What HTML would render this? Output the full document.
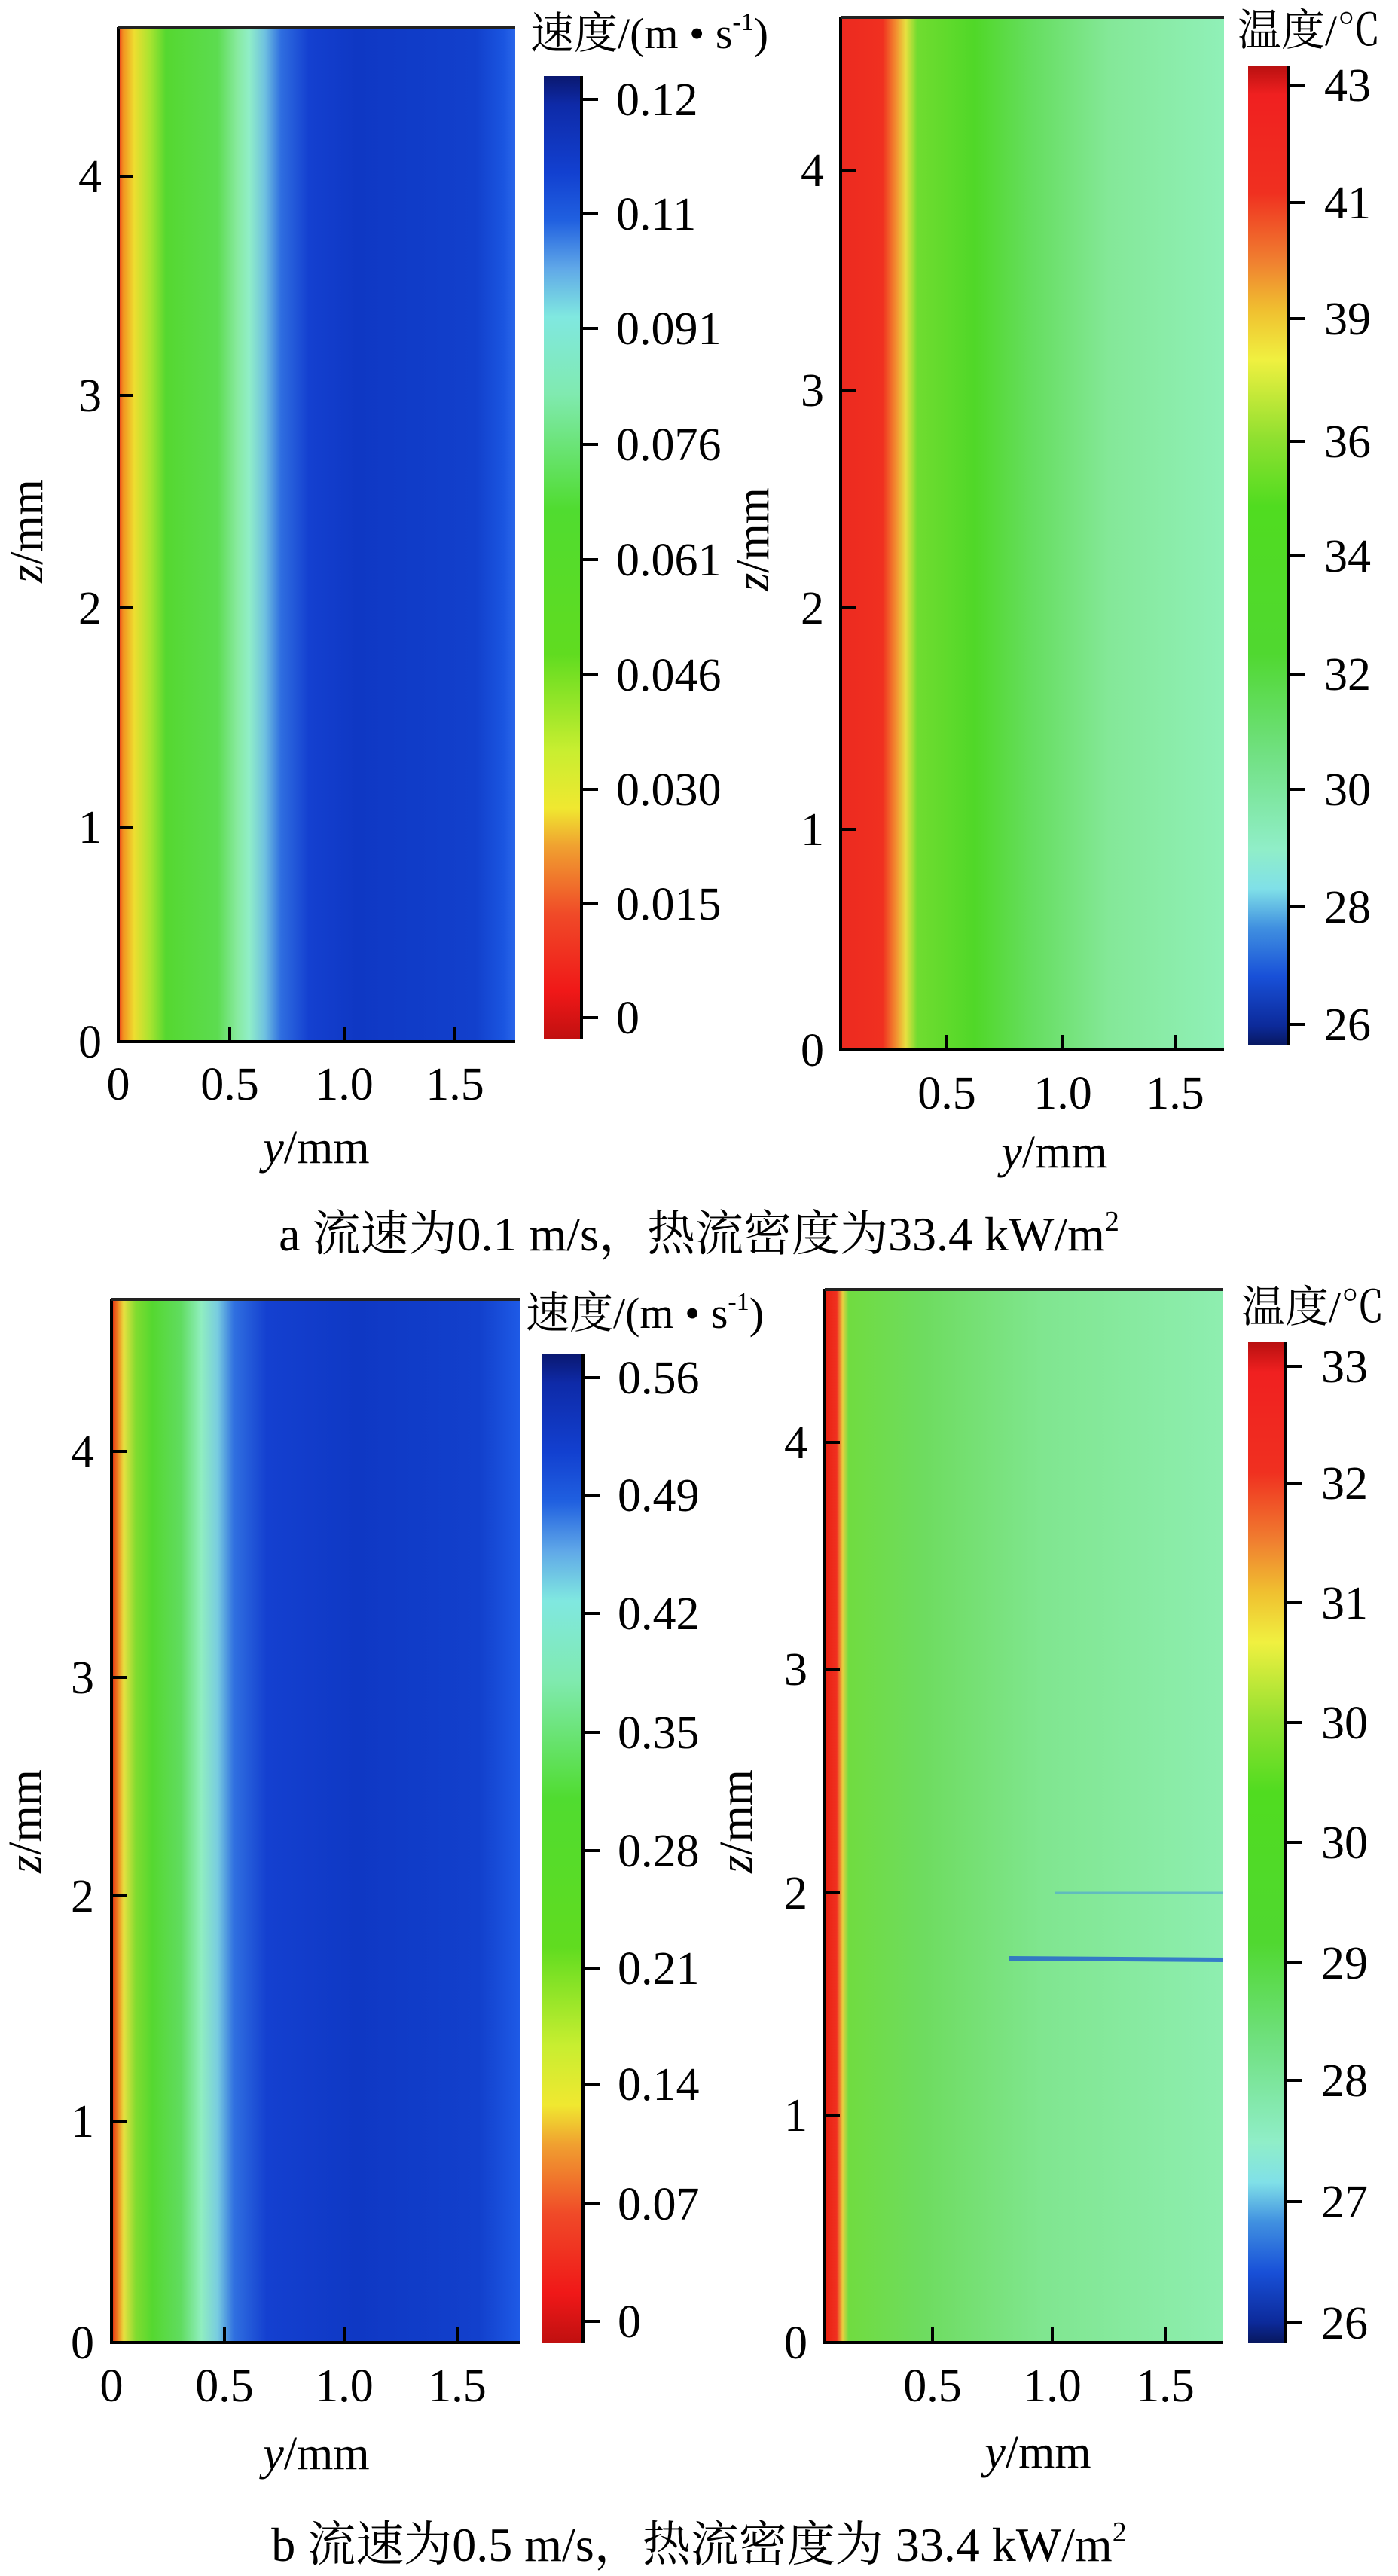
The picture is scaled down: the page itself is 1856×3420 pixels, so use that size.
<!DOCTYPE html>
<html><head><meta charset="utf-8"><style>
html,body{margin:0;padding:0;background:#fff;}
svg{display:block;}
text{font-family:"Liberation Serif","Noto Serif CJK SC",serif;fill:#000;}
</style></head><body>
<svg width="1856" height="3420" viewBox="0 0 1856 3420" xmlns="http://www.w3.org/2000/svg">
<defs>
<linearGradient id="vel" x1="0" x2="1" y1="0" y2="0">
<stop offset="0" stop-color="#e8321a"/><stop offset="0.012" stop-color="#f29020"/>
<stop offset="0.04" stop-color="#eede30"/><stop offset="0.08" stop-color="#a8e430"/>
<stop offset="0.12" stop-color="#55d830"/><stop offset="0.25" stop-color="#5cdc50"/>
<stop offset="0.3" stop-color="#88eaa0"/><stop offset="0.33" stop-color="#90eec8"/>
<stop offset="0.37" stop-color="#6ec0e0"/><stop offset="0.41" stop-color="#2f6ee0"/>
<stop offset="0.48" stop-color="#1440d0"/><stop offset="0.6" stop-color="#0f38c4"/>
<stop offset="0.9" stop-color="#1240cc"/><stop offset="0.97" stop-color="#1a55e0"/>
<stop offset="1" stop-color="#2a66ea"/>
</linearGradient>
<linearGradient id="velb" x1="0" x2="1" y1="0" y2="0">
<stop offset="0" stop-color="#e02010"/><stop offset="0.015" stop-color="#f08020"/>
<stop offset="0.03" stop-color="#e8e040"/><stop offset="0.06" stop-color="#80dc30"/>
<stop offset="0.1" stop-color="#55d830"/><stop offset="0.17" stop-color="#60dc60"/>
<stop offset="0.22" stop-color="#90eec0"/><stop offset="0.26" stop-color="#78cce0"/>
<stop offset="0.3" stop-color="#3070e0"/><stop offset="0.38" stop-color="#1440d0"/>
<stop offset="0.6" stop-color="#0f38c4"/><stop offset="0.9" stop-color="#1240cc"/>
<stop offset="1" stop-color="#1e5ae6"/>
</linearGradient>
<linearGradient id="tempa" x1="0" x2="1" y1="0" y2="0">
<stop offset="0" stop-color="#ec2a20"/><stop offset="0.11" stop-color="#f03020"/>
<stop offset="0.145" stop-color="#f29030"/><stop offset="0.17" stop-color="#e8e040"/>
<stop offset="0.2" stop-color="#70dc30"/><stop offset="0.35" stop-color="#50d828"/>
<stop offset="0.5" stop-color="#66de60"/><stop offset="0.7" stop-color="#84e898"/>
<stop offset="1" stop-color="#90f0b8"/>
</linearGradient>
<linearGradient id="tempb" x1="0" x2="1" y1="0" y2="0">
<stop offset="0" stop-color="#e82010"/><stop offset="0.03" stop-color="#f03020"/>
<stop offset="0.045" stop-color="#e8d040"/><stop offset="0.06" stop-color="#70dc40"/>
<stop offset="0.25" stop-color="#6edc60"/><stop offset="0.55" stop-color="#80e690"/>
<stop offset="1" stop-color="#8eeeb0"/>
</linearGradient>
<linearGradient id="cbv" x1="0" x2="0" y1="0" y2="1">
<stop offset="0" stop-color="#0a1870"/><stop offset="0.03" stop-color="#0e2aa8"/>
<stop offset="0.1" stop-color="#1240d0"/><stop offset="0.15" stop-color="#2060e0"/>
<stop offset="0.2" stop-color="#60a8e8"/><stop offset="0.25" stop-color="#80e8e0"/>
<stop offset="0.33" stop-color="#80eab0"/><stop offset="0.45" stop-color="#50dc30"/>
<stop offset="0.6" stop-color="#60dc20"/><stop offset="0.7" stop-color="#c8ee30"/>
<stop offset="0.76" stop-color="#f0e830"/><stop offset="0.8" stop-color="#f0a030"/>
<stop offset="0.87" stop-color="#f04a28"/><stop offset="0.95" stop-color="#f01818"/>
<stop offset="1" stop-color="#c01010"/>
</linearGradient>
<linearGradient id="cbt" x1="0" x2="0" y1="0" y2="1">
<stop offset="0" stop-color="#b81010"/><stop offset="0.03" stop-color="#f02020"/>
<stop offset="0.13" stop-color="#f03020"/><stop offset="0.2" stop-color="#f08030"/>
<stop offset="0.25" stop-color="#f0c030"/><stop offset="0.3" stop-color="#f0f040"/>
<stop offset="0.38" stop-color="#90e030"/><stop offset="0.45" stop-color="#50dc20"/>
<stop offset="0.6" stop-color="#50d830"/><stop offset="0.7" stop-color="#70e080"/>
<stop offset="0.8" stop-color="#90eec8"/><stop offset="0.84" stop-color="#80e0e8"/>
<stop offset="0.88" stop-color="#4090e0"/><stop offset="0.93" stop-color="#1850d8"/>
<stop offset="0.98" stop-color="#0c2a9a"/><stop offset="1" stop-color="#081860"/>
</linearGradient>
</defs>

<!-- ===== Panel a left ===== -->
<rect x="157" y="36" width="527" height="1347" fill="url(#vel)"/>
<path d="M157 36 V1383 H684" fill="none" stroke="#000" stroke-width="4"/>
<line x1="157" y1="37" x2="684" y2="37" stroke="#222" stroke-width="4"/>
<g stroke="#000" stroke-width="4">
<line x1="157" y1="234" x2="177" y2="234"/><line x1="157" y1="525" x2="177" y2="525"/>
<line x1="157" y1="807" x2="177" y2="807"/><line x1="157" y1="1098" x2="177" y2="1098"/>
<line x1="305" y1="1383" x2="305" y2="1363"/><line x1="457" y1="1383" x2="457" y2="1363"/><line x1="604" y1="1383" x2="604" y2="1363"/>
</g>
<g font-size="62" text-anchor="end">
<text x="135" y="255">4</text><text x="135" y="546">3</text><text x="135" y="828">2</text><text x="135" y="1119">1</text><text x="135" y="1404">0</text>
</g>
<g font-size="62" text-anchor="middle">
<text x="157" y="1460">0</text><text x="305" y="1460">0.5</text><text x="457" y="1460">1.0</text><text x="604" y="1460">1.5</text>
<text x="420" y="1544"><tspan font-style="italic">y</tspan>/mm</text>
</g>
<text font-size="62" text-anchor="middle" transform="translate(56,705) rotate(-90)"><tspan font-style="italic">z</tspan>/mm</text>
<rect x="722" y="101" width="50" height="1279" fill="url(#cbv)"/>
<line x1="772" y1="101" x2="772" y2="1380" stroke="#000" stroke-width="4"/>
<g stroke="#000" stroke-width="4">
<line x1="772" y1="132" x2="794" y2="132"/><line x1="772" y1="284" x2="794" y2="284"/><line x1="772" y1="436" x2="794" y2="436"/>
<line x1="772" y1="590" x2="794" y2="590"/><line x1="772" y1="743" x2="794" y2="743"/><line x1="772" y1="896" x2="794" y2="896"/>
<line x1="772" y1="1048" x2="794" y2="1048"/><line x1="772" y1="1200" x2="794" y2="1200"/><line x1="772" y1="1351" x2="794" y2="1351"/>
</g>
<g font-size="62">
<text x="818" y="153">0.12</text><text x="818" y="305">0.11</text><text x="818" y="457">0.091</text>
<text x="818" y="611">0.076</text><text x="818" y="764">0.061</text><text x="818" y="917">0.046</text>
<text x="818" y="1069">0.030</text><text x="818" y="1221">0.015</text><text x="818" y="1372">0</text>
</g>
<text x="704" y="64" font-size="58">速度/(m • s<tspan font-size="34" dy="-24">-1</tspan><tspan dy="24">)</tspan></text>

<!-- ===== Panel a right ===== -->
<rect x="1116" y="22" width="509" height="1372" fill="url(#tempa)"/>
<path d="M1116 22 V1394 H1625" fill="none" stroke="#000" stroke-width="4"/>
<line x1="1116" y1="23" x2="1625" y2="23" stroke="#222" stroke-width="4"/>
<g stroke="#000" stroke-width="4">
<line x1="1116" y1="226" x2="1136" y2="226"/><line x1="1116" y1="518" x2="1136" y2="518"/>
<line x1="1116" y1="807" x2="1136" y2="807"/><line x1="1116" y1="1101" x2="1136" y2="1101"/>
<line x1="1257" y1="1394" x2="1257" y2="1374"/><line x1="1411" y1="1394" x2="1411" y2="1374"/><line x1="1560" y1="1394" x2="1560" y2="1374"/>
</g>
<g font-size="62" text-anchor="end">
<text x="1094" y="247">4</text><text x="1094" y="539">3</text><text x="1094" y="828">2</text><text x="1094" y="1122">1</text><text x="1094" y="1415">0</text>
</g>
<g font-size="62" text-anchor="middle">
<text x="1257" y="1472">0.5</text><text x="1411" y="1472">1.0</text><text x="1560" y="1472">1.5</text>
<text x="1400" y="1550"><tspan font-style="italic">y</tspan>/mm</text>
</g>
<text font-size="62" text-anchor="middle" transform="translate(1020,716) rotate(-90)"><tspan font-style="italic">z</tspan>/mm</text>
<rect x="1657" y="87" width="51" height="1301" fill="url(#cbt)"/>
<line x1="1710" y1="87" x2="1710" y2="1388" stroke="#000" stroke-width="4"/>
<g stroke="#000" stroke-width="4">
<line x1="1710" y1="113" x2="1732" y2="113"/><line x1="1710" y1="269" x2="1732" y2="269"/><line x1="1710" y1="423" x2="1732" y2="423"/>
<line x1="1710" y1="586" x2="1732" y2="586"/><line x1="1710" y1="738" x2="1732" y2="738"/><line x1="1710" y1="895" x2="1732" y2="895"/>
<line x1="1710" y1="1048" x2="1732" y2="1048"/><line x1="1710" y1="1204" x2="1732" y2="1204"/><line x1="1710" y1="1360" x2="1732" y2="1360"/>
</g>
<g font-size="62">
<text x="1758" y="134">43</text><text x="1758" y="290">41</text><text x="1758" y="444">39</text>
<text x="1758" y="607">36</text><text x="1758" y="759">34</text><text x="1758" y="916">32</text>
<text x="1758" y="1069">30</text><text x="1758" y="1225">28</text><text x="1758" y="1381">26</text>
</g>
<text x="1643" y="60" font-size="58">温度/℃</text>

<text x="928" y="1660" font-size="64" text-anchor="middle">a  流速为0.1 m/s，热流密度为33.4 kW/m<tspan font-size="38" dy="-26">2</tspan></text>

<!-- ===== Panel b left ===== -->
<rect x="148" y="1724" width="542" height="1386" fill="url(#velb)"/>
<path d="M148 1724 V3110 H690" fill="none" stroke="#000" stroke-width="4"/>
<line x1="148" y1="1725" x2="690" y2="1725" stroke="#222" stroke-width="4"/>
<g stroke="#000" stroke-width="4">
<line x1="148" y1="1927" x2="168" y2="1927"/><line x1="148" y1="2227" x2="168" y2="2227"/>
<line x1="148" y1="2517" x2="168" y2="2517"/><line x1="148" y1="2816" x2="168" y2="2816"/>
<line x1="298" y1="3110" x2="298" y2="3090"/><line x1="457" y1="3110" x2="457" y2="3090"/><line x1="607" y1="3110" x2="607" y2="3090"/>
</g>
<g font-size="62" text-anchor="end">
<text x="125" y="1948">4</text><text x="125" y="2248">3</text><text x="125" y="2538">2</text><text x="125" y="2837">1</text><text x="125" y="3131">0</text>
</g>
<g font-size="62" text-anchor="middle">
<text x="148" y="3188">0</text><text x="298" y="3188">0.5</text><text x="457" y="3188">1.0</text><text x="607" y="3188">1.5</text>
<text x="420" y="3278"><tspan font-style="italic">y</tspan>/mm</text>
</g>
<text font-size="62" text-anchor="middle" transform="translate(54,2418) rotate(-90)"><tspan font-style="italic">z</tspan>/mm</text>
<rect x="720" y="1797" width="53" height="1313" fill="url(#cbv)"/>
<line x1="774" y1="1797" x2="774" y2="3110" stroke="#000" stroke-width="4"/>
<g stroke="#000" stroke-width="4">
<line x1="774" y1="1829" x2="796" y2="1829"/><line x1="774" y1="1985" x2="796" y2="1985"/><line x1="774" y1="2142" x2="796" y2="2142"/>
<line x1="774" y1="2300" x2="796" y2="2300"/><line x1="774" y1="2457" x2="796" y2="2457"/><line x1="774" y1="2613" x2="796" y2="2613"/>
<line x1="774" y1="2767" x2="796" y2="2767"/><line x1="774" y1="2926" x2="796" y2="2926"/><line x1="774" y1="3082" x2="796" y2="3082"/>
</g>
<g font-size="62">
<text x="820" y="1850">0.56</text><text x="820" y="2006">0.49</text><text x="820" y="2163">0.42</text>
<text x="820" y="2321">0.35</text><text x="820" y="2478">0.28</text><text x="820" y="2634">0.21</text>
<text x="820" y="2788">0.14</text><text x="820" y="2947">0.07</text><text x="820" y="3103">0</text>
</g>
<text x="698" y="1763" font-size="58">速度/(m • s<tspan font-size="34" dy="-24">-1</tspan><tspan dy="24">)</tspan></text>

<!-- ===== Panel b right ===== -->
<rect x="1095" y="1711" width="529" height="1399" fill="url(#tempb)"/>
<line x1="1400" y1="2513" x2="1624" y2="2513" stroke="#4aa0d8" stroke-width="3" opacity="0.6"/>
<line x1="1340" y1="2600" x2="1624" y2="2602" stroke="#2060d0" stroke-width="6" opacity="0.8"/>
<path d="M1095 1711 V3110 H1624" fill="none" stroke="#000" stroke-width="4"/>
<line x1="1095" y1="1712" x2="1624" y2="1712" stroke="#222" stroke-width="4"/>
<g stroke="#000" stroke-width="4">
<line x1="1095" y1="1915" x2="1115" y2="1915"/><line x1="1095" y1="2216" x2="1115" y2="2216"/>
<line x1="1095" y1="2513" x2="1115" y2="2513"/><line x1="1095" y1="2808" x2="1115" y2="2808"/>
<line x1="1238" y1="3110" x2="1238" y2="3090"/><line x1="1397" y1="3110" x2="1397" y2="3090"/><line x1="1547" y1="3110" x2="1547" y2="3090"/>
</g>
<g font-size="62" text-anchor="end">
<text x="1072" y="1936">4</text><text x="1072" y="2237">3</text><text x="1072" y="2534">2</text><text x="1072" y="2829">1</text><text x="1072" y="3131">0</text>
</g>
<g font-size="62" text-anchor="middle">
<text x="1238" y="3188">0.5</text><text x="1397" y="3188">1.0</text><text x="1547" y="3188">1.5</text>
<text x="1378" y="3276"><tspan font-style="italic">y</tspan>/mm</text>
</g>
<text font-size="62" text-anchor="middle" transform="translate(998,2418) rotate(-90)"><tspan font-style="italic">z</tspan>/mm</text>
<rect x="1657" y="1782" width="49" height="1328" fill="url(#cbt)"/>
<line x1="1707" y1="1782" x2="1707" y2="3110" stroke="#000" stroke-width="4"/>
<g stroke="#000" stroke-width="4">
<line x1="1707" y1="1814" x2="1729" y2="1814"/><line x1="1707" y1="1969" x2="1729" y2="1969"/><line x1="1707" y1="2128" x2="1729" y2="2128"/>
<line x1="1707" y1="2287" x2="1729" y2="2287"/><line x1="1707" y1="2446" x2="1729" y2="2446"/><line x1="1707" y1="2606" x2="1729" y2="2606"/>
<line x1="1707" y1="2762" x2="1729" y2="2762"/><line x1="1707" y1="2923" x2="1729" y2="2923"/><line x1="1707" y1="3084" x2="1729" y2="3084"/>
</g>
<g font-size="62">
<text x="1754" y="1835">33</text><text x="1754" y="1990">32</text><text x="1754" y="2149">31</text>
<text x="1754" y="2308">30</text><text x="1754" y="2467">30</text><text x="1754" y="2627">29</text>
<text x="1754" y="2783">28</text><text x="1754" y="2944">27</text><text x="1754" y="3105">26</text>
</g>
<text x="1648" y="1755" font-size="58">温度/℃</text>

<text x="928" y="3400" font-size="64" text-anchor="middle">b  流速为0.5 m/s，热流密度为 33.4 kW/m<tspan font-size="38" dy="-26">2</tspan></text>
</svg>
</body></html>
